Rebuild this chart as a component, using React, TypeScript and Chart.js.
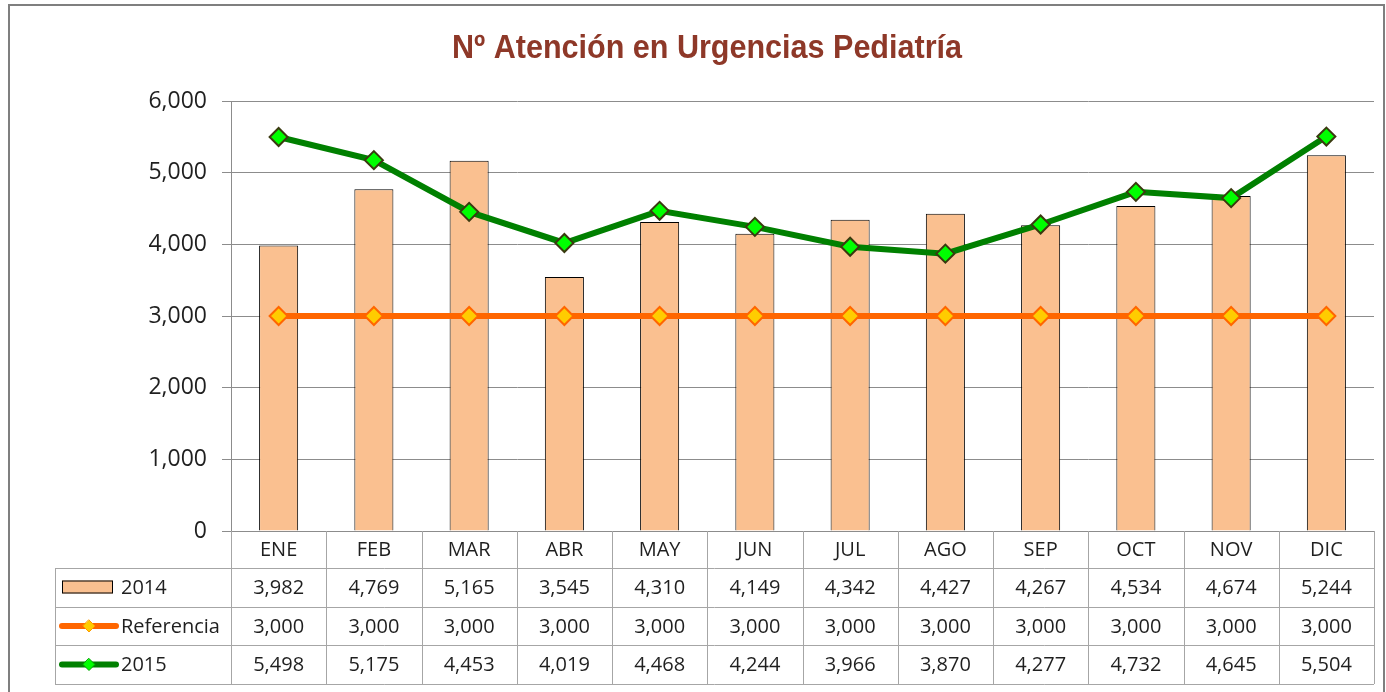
import React, { useEffect, useRef } from "react";
import { Chart, registerables } from "chart.js";

Chart.register(...registerables);

const categories = ["ENE", "FEB", "MAR", "ABR", "MAY", "JUN", "JUL", "AGO", "SEP", "OCT", "NOV", "DIC"];
const values2014 = [3982, 4769, 5165, 3545, 4310, 4149, 4342, 4427, 4267, 4534, 4674, 5244];
const valuesRef = [3000, 3000, 3000, 3000, 3000, 3000, 3000, 3000, 3000, 3000, 3000, 3000];
const values2015 = [5498, 5175, 4453, 4019, 4468, 4244, 3966, 3870, 4277, 4732, 4645, 5504];
const yTicks = [0, 1000, 2000, 3000, 4000, 5000, 6000];
const titleText = "Nº Atención en Urgencias Pediatría";

const FONT = "'Open Sans', 'Noto Sans', sans-serif";
const fmt = (v: number) => v.toLocaleString("en-US");

const tablePlugin = {
  id: "tablePlugin",
  afterDraw(chart: any) {
    const ctx = chart.ctx as CanvasRenderingContext2D;
    const x = chart.scales.x;
    const area = chart.chartArea;
    const right = area.right;
    const top = area.bottom;
    const rowLines = [top, 568, 607, 645, 684];
    const tableLeft = 55;
    const colW = x.getPixelForValue(1) - x.getPixelForValue(0);
    ctx.save();
    ctx.strokeStyle = "#a6a6a6";
    ctx.lineWidth = 1;
    ctx.beginPath();
    for (let i = 0; i <= categories.length; i++) {
      const cx = Math.round(x.getPixelForValue(0) - colW / 2 + i * colW) + 0.5;
      ctx.moveTo(cx, top);
      ctx.lineTo(cx, rowLines[4]);
    }
    for (let r = 1; r < rowLines.length; r++) {
      ctx.moveTo(tableLeft, rowLines[r] + 0.5);
      ctx.lineTo(right, rowLines[r] + 0.5);
    }
    ctx.moveTo(tableLeft + 0.5, rowLines[1]);
    ctx.lineTo(tableLeft + 0.5, rowLines[4]);
    ctx.stroke();

    ctx.fillStyle = "#1f1f1f";
    ctx.font = `20px ${FONT}`;
    ctx.textAlign = "center";
    ctx.textBaseline = "middle";
    const rows = [values2014, valuesRef, values2015];
    categories.forEach((c, i) => {
      const cx = x.getPixelForValue(i);
      ctx.fillText(c, cx, (rowLines[0] + rowLines[1]) / 2 + 1);
      rows.forEach((vals, r) => {
        ctx.fillText(fmt(vals[i]), cx, (rowLines[r + 1] + rowLines[r + 2]) / 2 + 1);
      });
    });

    ctx.textAlign = "left";
    const names = ["2014", "Referencia", "2015"];
    names.forEach((n, r) => {
      const cy = (rowLines[r + 1] + rowLines[r + 2]) / 2;
      ctx.fillStyle = "#1f1f1f";
      ctx.fillText(n, 121, cy + 1);
      if (r === 0) {
        ctx.fillStyle = "#FAC090";
        ctx.fillRect(62, cy - 7, 51, 13);
        ctx.strokeStyle = "#000";
        ctx.lineWidth = 1;
        ctx.strokeRect(62.5, cy - 6.5, 50, 12);
      } else {
        const lineC = r === 1 ? "#FF6600" : "#008000";
        const fillC = r === 1 ? "#FFCC00" : "#00FF00";
        ctx.strokeStyle = lineC;
        ctx.lineWidth = 6;
        ctx.lineCap = "round";
        ctx.beginPath();
        ctx.moveTo(62, cy);
        ctx.lineTo(116, cy);
        ctx.stroke();
        ctx.fillStyle = fillC;
        ctx.strokeStyle = r === 1 ? "#FF9900" : "#00a000";
        ctx.lineWidth = 1;
        ctx.beginPath();
        ctx.moveTo(89, cy - 6);
        ctx.lineTo(95, cy);
        ctx.lineTo(89, cy + 6);
        ctx.lineTo(83, cy);
        ctx.closePath();
        ctx.fill();
        ctx.stroke();
      }
    });

    ctx.fillStyle = "#8E3828";
    ctx.font = `bold 34px 'Liberation Sans Narrow', 'Liberation Sans', Arial, sans-serif`;
    ctx.textAlign = "left";
    ctx.textBaseline = "alphabetic";
    const tw = ctx.measureText(titleText).width;
    const sx = 510 / tw;
    ctx.translate(452, 58);
    ctx.scale(sx, 1);
    ctx.fillText(titleText, 0, 0);
    ctx.restore();

    ctx.save();
    ctx.strokeStyle = "#7f7f7f";
    ctx.lineWidth = 2;
    ctx.strokeRect(9, 5, 1375, 700);
    ctx.restore();
  },
};

export default function App() {
  const ref = useRef<HTMLCanvasElement | null>(null);
  useEffect(() => {
    document.body.style.margin = "0";
    const canvas = ref.current!;
    const chart = new Chart(canvas, {
      type: "bar",
      data: {
        labels: categories,
        datasets: [
          {
            type: "line",
            label: "2015",
            data: values2015,
            borderColor: "#008000",
            borderWidth: 6,
            pointStyle: "rectRot",
            pointRadius: 9,
            pointBackgroundColor: "#00FF00",
            pointBorderColor: "#3a3a10",
            pointBorderWidth: 2,
            order: 1,
          } as any,
          {
            type: "line",
            label: "Referencia",
            data: valuesRef,
            borderColor: "#FF6600",
            borderWidth: 6,
            pointStyle: "rectRot",
            pointRadius: 9,
            pointBackgroundColor: "#FFCC00",
            pointBorderColor: "#FF6600",
            pointBorderWidth: 2,
            order: 2,
          } as any,
          {
            type: "bar",
            label: "2014",
            data: values2014,
            backgroundColor: "#FAC090",
            borderColor: "#000000",
            borderWidth: 1,
            barPercentage: 0.41,
            categoryPercentage: 1.0,
            order: 3,
          },
        ],
      },
      options: {
        responsive: false,
        animation: false,
        devicePixelRatio: 1,
        layout: { padding: { left: 0, top: 101, right: 12, bottom: 161 } },
        plugins: {
          legend: { display: false },
          title: { display: false },
          tooltip: { enabled: false },
        },
        scales: {
          x: {
            display: false,
            offset: true,
          },
          y: {
            min: 0,
            max: 6000,
            afterFit: (scale: any) => {
              scale.width = 231;
            },
            afterBuildTicks: (scale: any) => {
              scale.ticks = yTicks.map((v) => ({ value: v }));
            },
            ticks: {
              callback: (v: any) => fmt(Number(v)),
              font: { family: FONT, size: 23 },
              color: "#1f1f1f",
              padding: 15,
            },
            grid: {
              color: "#8c8c8c",
              lineWidth: 1,
              tickLength: 9,
              drawTicks: true,
            },
            border: { display: true, color: "#8c8c8c", width: 1 },
          },
        },
      },
      plugins: [tablePlugin],
    });
    return () => chart.destroy();
  }, []);
  return (
    <div style={{ position: "relative", width: 1386, height: 692, background: "#fff" }}>
      <canvas ref={ref} width={1386} height={692} style={{ display: "block" }} />
    </div>
  );
}
